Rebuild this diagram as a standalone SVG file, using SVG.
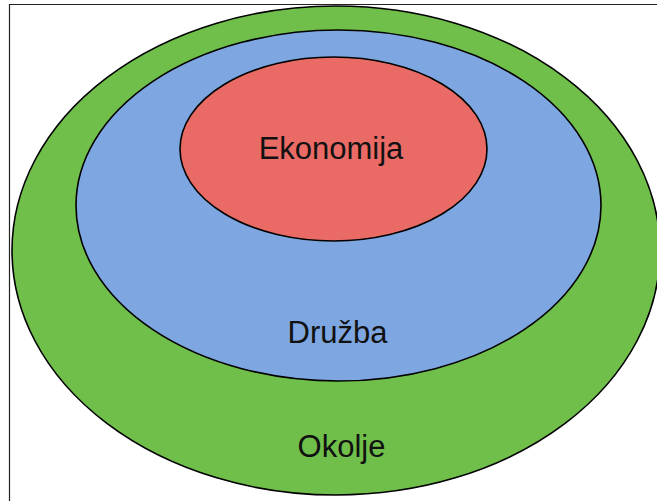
<svg xmlns="http://www.w3.org/2000/svg" width="657" height="501" viewBox="0 0 657 501">
  <style>
    .ring { stroke: #000; stroke-width: 1.6; }
    .label { font-family: "Liberation Sans", Arial, sans-serif; font-size: 31px; fill: #111; text-anchor: middle; }
  </style>
  <rect x="0" y="0" width="657" height="501" fill="#fff"/>
  <!-- frame -->
  <path d="M9.5 501 V4.5 H657" fill="none" stroke="#222" stroke-width="1.2"/>
  <g id="okolje">
    <ellipse class="ring" cx="336" cy="250.5" rx="324" ry="244.5" fill="#70bf4b"/>
    <text class="label" x="341.5" y="457">Okolje</text>
  </g>
  <g id="druzba">
    <ellipse class="ring" cx="338.5" cy="205.5" rx="262.5" ry="175.5" fill="#7ea6e0"/>
    <text class="label" x="337.5" y="343">Družba</text>
  </g>
  <g id="ekonomija">
    <ellipse class="ring" cx="333.5" cy="149" rx="153.5" ry="92" fill="#ea6b66"/>
    <text class="label" x="331" y="159">Ekonomija</text>
  </g>
  <g id="connectors"/>
</svg>
